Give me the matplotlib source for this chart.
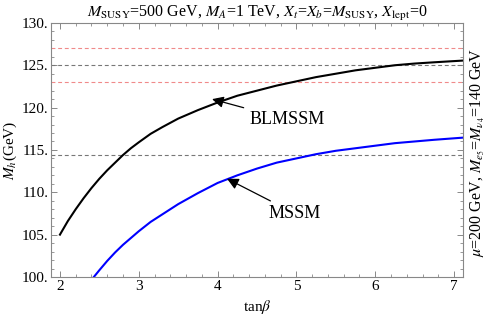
import matplotlib
matplotlib.use('Agg')
import matplotlib.pyplot as plt
from matplotlib.ticker import MultipleLocator, FuncFormatter

plt.rcParams['font.family'] = ['Liberation Serif', 'DejaVu Serif']
plt.rcParams['mathtext.fontset'] = 'stix'

# BLMSSM curve (black)
tanb_bl = [2.0, 2.1, 2.2, 2.3, 2.4, 2.5, 2.6, 2.7, 2.8, 2.9, 3.0, 3.15, 3.3, 3.5, 3.75,
           4.0, 4.25, 4.5, 4.75, 5.0, 5.25, 5.5, 5.75, 6.0, 6.25, 6.5, 6.75, 7.11]
mh_bl = [105.0, 106.6, 108.0, 109.3, 110.5, 111.6, 112.6, 113.5, 114.4, 115.2, 115.9,
         116.9, 117.7, 118.7, 119.7, 120.6, 121.4, 122.0, 122.6, 123.1, 123.6, 124.0,
         124.4, 124.7, 125.0, 125.2, 125.35, 125.55]

# MSSM curve (blue)
tanb_ms = [2.43, 2.5, 2.6, 2.7, 2.8, 2.9, 3.0, 3.15, 3.3, 3.5, 3.75, 4.0, 4.25, 4.5,
           4.75, 5.0, 5.25, 5.5, 5.75, 6.0, 6.25, 6.5, 6.75, 7.11]
mh_ms = [100.0, 100.8, 101.9, 102.9, 103.8, 104.6, 105.4, 106.5, 107.4, 108.6, 109.9,
         111.1, 112.0, 112.8, 113.5, 114.0, 114.5, 114.9, 115.2, 115.5, 115.8, 116.0,
         116.2, 116.45]

# reference lines
red_lines = [127.0, 123.0]
gray_lines = [125.0, 114.4]

fig = plt.figure(figsize=(4.9, 3.18), dpi=100)
ax = fig.add_axes([0.104, 0.129, 0.841, 0.799])

for y in red_lines:
    ax.axhline(y, color='#f08a8a', lw=0.8, dashes=(3.5, 2.5))
for y in gray_lines:
    ax.axhline(y, color='#777777', lw=0.8, dashes=(3.5, 2.5))

ax.plot(tanb_bl, mh_bl, color='black', lw=1.5)
ax.plot(tanb_ms, mh_ms, color='#0000ff', lw=1.5)

ax.set_xlim(1.886, 7.114)
ax.set_ylim(100, 130)

ax.xaxis.set_major_locator(MultipleLocator(1))
ax.xaxis.set_minor_locator(MultipleLocator(0.2))
ax.yaxis.set_major_locator(MultipleLocator(5))
ax.yaxis.set_minor_locator(MultipleLocator(1))
ax.yaxis.set_major_formatter(FuncFormatter(lambda v, p: f'{v:.0f}.'))

ax.tick_params(which='both', direction='in', top=True, right=True, color='#888888',
               labelsize=11, pad=2)
ax.tick_params(which='major', length=4, width=0.7)
ax.tick_params(which='minor', length=2, width=0.6)
for s in ax.spines.values():
    s.set_color('#888888')
    s.set_linewidth(0.8)

ax.set_xlabel(r'tan$\beta$', fontsize=11, labelpad=4)
ax.set_ylabel(r'$M_h$(GeV)', fontsize=11, labelpad=2)
ax.set_title(r'$M_{\rm SUSY}$=500 GeV, $M_A$=1 TeV, $X_t$=$X_b$=$M_{\rm SUSY}$, $X_{\rm lept}$=0',
             fontsize=11.5, pad=3)

fig.text(0.975, 0.52, r'$\mu$=200 GeV, $M_{e_5}$=$M_{\nu_4}$=140 GeV',
         rotation=90, ha='center', va='center', fontsize=11.5)

ax.annotate('BLMSSM', xy=(3.93, 121.0), xytext=(4.4, 118.6), fontsize=13,
            va='center', ha='left',
            arrowprops=dict(arrowstyle='-|>', color='black', lw=0.9,
                            mutation_scale=17, shrinkA=2, shrinkB=0))
ax.annotate('MSSM', xy=(4.12, 111.6), xytext=(4.65, 107.5), fontsize=13,
            va='center', ha='left',
            arrowprops=dict(arrowstyle='-|>', color='black', lw=0.9,
                            mutation_scale=17, shrinkA=2, shrinkB=0))

fig.savefig('out.png', dpi=100)
